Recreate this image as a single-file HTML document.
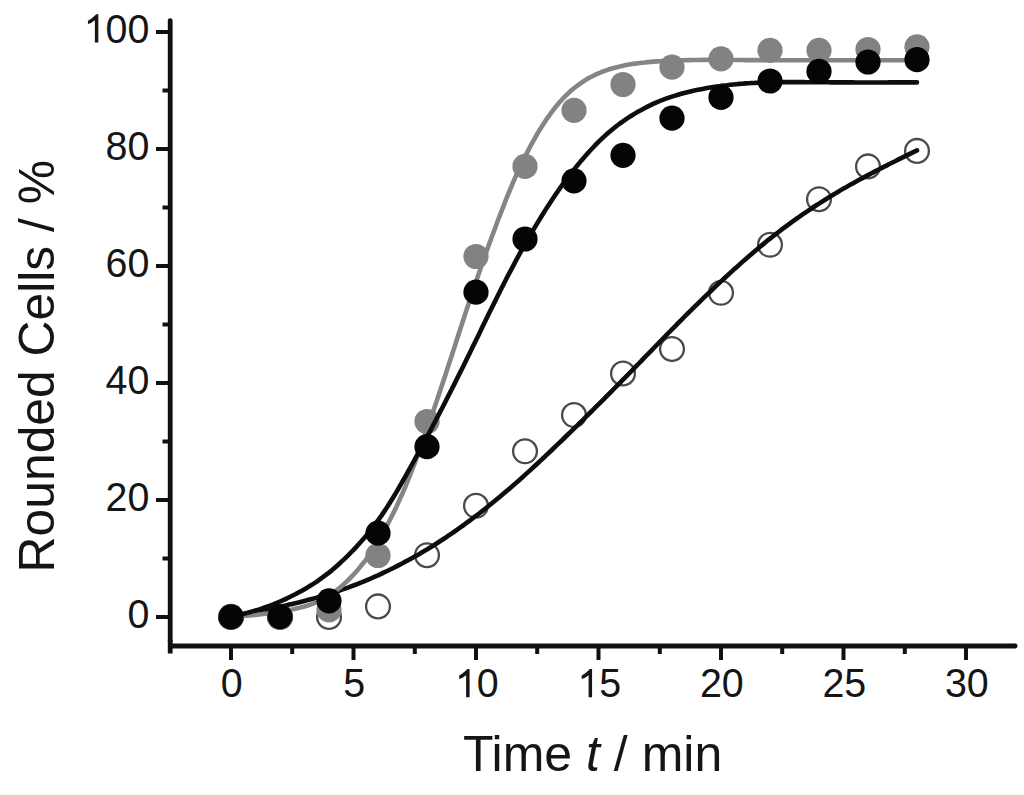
<!DOCTYPE html><html><head><meta charset="utf-8"><style>html,body{margin:0;padding:0;background:#fff;overflow:hidden}svg{display:block}svg text{font-family:"Liberation Sans",sans-serif}</style></head><body>
<svg width="1024" height="795" viewBox="0 0 1024 795" font-family="Liberation Sans">
<rect width="1024" height="795" fill="#fff"/>
<g>
<path d="M156,616.9 H170 M156,499.9 H170 M156,382.9 H170 M156,265.9 H170 M156,148.9 H170 M156,31.9 H170 M162.5,558.4 H170 M162.5,441.4 H170 M162.5,324.4 H170 M162.5,207.4 H170 M162.5,90.4 H170 M231.0,646 V660 M353.5,646 V660 M476.0,646 V660 M598.5,646 V660 M721.0,646 V660 M843.5,646 V660 M966.0,646 V660 M292.2,646 V654 M414.8,646 V654 M537.2,646 V654 M659.8,646 V654 M782.2,646 V654 M904.8,646 V654" stroke="#111" stroke-width="4.0" fill="none"/>
<path d="M170.2,640 V653.5 M170.2,646 H1015" stroke="#111" stroke-width="4.8" fill="none"/><path d="M170.2,20.6 V641 M1015,646 H1015.1" stroke="#111" stroke-width="4.8" fill="none" stroke-linecap="round"/>
<g font-size="39.4" fill="#151515"><text transform="translate(127.49,627.50) scale(1,1.046)">0</text><text transform="translate(105.58,510.50) scale(1,1.046)">2</text><text transform="translate(127.49,510.50) scale(1,1.046)">0</text><text transform="translate(105.58,393.50) scale(1,1.046)">4</text><text transform="translate(127.49,393.50) scale(1,1.046)">0</text><text transform="translate(105.58,276.50) scale(1,1.046)">6</text><text transform="translate(127.49,276.50) scale(1,1.046)">0</text><text transform="translate(105.58,159.50) scale(1,1.046)">8</text><text transform="translate(127.49,159.50) scale(1,1.046)">0</text><path transform="translate(83.66,42.50) scale(0.01924,-0.02012)" d="M763 0L583 0L583 1102Q430 970 223 914L223 1081Q360 1144 470 1240Q590 1336 647 1409L763 1409Z"/><text transform="translate(105.58,42.50) scale(1,1.046)">0</text><text transform="translate(127.49,42.50) scale(1,1.046)">0</text><text transform="translate(220.84,697.30) scale(1,1.046)">0</text><text transform="translate(343.34,697.30) scale(1,1.046)">5</text><path transform="translate(454.89,697.30) scale(0.01924,-0.02012)" d="M763 0L583 0L583 1102Q430 970 223 914L223 1081Q360 1144 470 1240Q590 1336 647 1409L763 1409Z"/><text transform="translate(476.80,697.30) scale(1,1.046)">0</text><path transform="translate(577.39,697.30) scale(0.01924,-0.02012)" d="M763 0L583 0L583 1102Q430 970 223 914L223 1081Q360 1144 470 1240Q590 1336 647 1409L763 1409Z"/><text transform="translate(599.30,697.30) scale(1,1.046)">5</text><text transform="translate(699.89,697.30) scale(1,1.046)">2</text><text transform="translate(721.80,697.30) scale(1,1.046)">0</text><text transform="translate(822.39,697.30) scale(1,1.046)">2</text><text transform="translate(844.30,697.30) scale(1,1.046)">5</text><text transform="translate(944.89,697.30) scale(1,1.046)">3</text><text transform="translate(966.80,697.30) scale(1,1.046)">0</text></g>
<text x="462.9" y="771" font-size="50" fill="#151515">Time <tspan font-style="italic">t</tspan> / min</text>
<text transform="translate(54,572.4) rotate(-90)" font-size="49.8" fill="#151515">Rounded Cells / %</text>
<g fill="none" stroke="#4a4a4a" stroke-width="2.3"><circle cx="231.0" cy="616.9" r="11.9"/><circle cx="280.0" cy="616.9" r="11.9"/><circle cx="329.0" cy="616.9" r="11.9"/><circle cx="378.0" cy="606.4" r="11.9"/><circle cx="427.0" cy="555.2" r="11.9"/><circle cx="476.0" cy="505.8" r="11.9"/><circle cx="525.0" cy="451.3" r="11.9"/><circle cx="574.0" cy="415.1" r="11.9"/><circle cx="623.0" cy="373.5" r="11.9"/><circle cx="672.0" cy="349.0" r="11.9"/><circle cx="721.0" cy="292.8" r="11.9"/><circle cx="770.0" cy="244.8" r="11.9"/><circle cx="819.0" cy="199.2" r="11.9"/><circle cx="868.0" cy="166.4" r="11.9"/><circle cx="917.0" cy="150.9" r="11.9"/></g>
<path d="M231.0,616.9 L234.1,616.3 L237.1,615.7 L240.2,615.0 L243.2,614.4 L246.3,613.8 L249.4,613.2 L252.4,612.5 L255.5,611.9 L258.6,611.3 L261.6,610.6 L264.7,610.0 L267.8,609.4 L270.8,608.7 L273.9,608.1 L276.9,607.4 L280.0,606.7 L283.1,606.0 L286.1,605.4 L289.2,604.6 L292.2,603.9 L295.3,603.2 L298.4,602.5 L301.4,601.7 L304.5,600.9 L307.6,600.1 L310.6,599.3 L313.7,598.5 L316.8,597.6 L319.8,596.7 L322.9,595.8 L325.9,594.9 L329.0,594.0 L332.1,593.0 L335.1,592.0 L338.2,591.0 L341.2,589.9 L344.3,588.9 L347.4,587.8 L350.4,586.6 L353.5,585.5 L356.6,584.3 L359.6,583.1 L362.7,581.9 L365.8,580.6 L368.8,579.3 L371.9,578.0 L374.9,576.6 L378.0,575.3 L381.1,573.9 L384.1,572.4 L387.2,571.0 L390.2,569.5 L393.3,568.0 L396.4,566.4 L399.4,564.9 L402.5,563.3 L405.6,561.6 L408.6,560.0 L411.7,558.3 L414.8,556.6 L417.8,554.9 L420.9,553.1 L423.9,551.3 L427.0,549.4 L430.1,547.6 L433.1,545.7 L436.2,543.7 L439.2,541.8 L442.3,539.8 L445.4,537.8 L448.4,535.7 L451.5,533.6 L454.6,531.5 L457.6,529.4 L460.7,527.2 L463.8,525.0 L466.8,522.7 L469.9,520.5 L472.9,518.2 L476.0,515.8 L479.1,513.5 L482.1,511.1 L485.2,508.7 L488.2,506.3 L491.3,503.8 L494.4,501.3 L497.4,498.8 L500.5,496.2 L503.6,493.6 L506.6,491.0 L509.7,488.4 L512.8,485.8 L515.8,483.1 L518.9,480.4 L521.9,477.7 L525.0,474.9 L528.1,472.1 L531.1,469.4 L534.2,466.5 L537.2,463.7 L540.3,460.9 L543.4,458.0 L546.4,455.1 L549.5,452.2 L552.6,449.3 L555.6,446.4 L558.7,443.4 L561.8,440.5 L564.8,437.5 L567.9,434.5 L570.9,431.6 L574.0,428.6 L577.1,425.6 L580.1,422.6 L583.2,419.6 L586.2,416.5 L589.3,413.5 L592.4,410.5 L595.4,407.4 L598.5,404.4 L601.6,401.3 L604.6,398.3 L607.7,395.2 L610.8,392.1 L613.8,389.0 L616.9,385.9 L619.9,382.8 L623.0,379.7 L626.1,376.6 L629.1,373.5 L632.2,370.3 L635.2,367.2 L638.3,364.0 L641.4,360.8 L644.4,357.7 L647.5,354.5 L650.6,351.4 L653.6,348.2 L656.7,345.0 L659.8,341.9 L662.8,338.8 L665.9,335.6 L668.9,332.5 L672.0,329.4 L675.1,326.3 L678.1,323.2 L681.2,320.1 L684.2,317.0 L687.3,313.9 L690.4,310.9 L693.4,307.9 L696.5,304.8 L699.6,301.8 L702.6,298.9 L705.7,295.9 L708.8,293.0 L711.8,290.0 L714.9,287.1 L717.9,284.2 L721.0,281.4 L724.1,278.5 L727.1,275.7 L730.2,272.9 L733.2,270.1 L736.3,267.4 L739.4,264.6 L742.4,261.9 L745.5,259.2 L748.6,256.5 L751.6,253.9 L754.7,251.3 L757.8,248.7 L760.8,246.1 L763.9,243.6 L766.9,241.1 L770.0,238.6 L773.1,236.2 L776.1,233.8 L779.2,231.5 L782.2,229.1 L785.3,226.8 L788.4,224.6 L791.4,222.3 L794.5,220.1 L797.6,218.0 L800.6,215.8 L803.7,213.7 L806.8,211.6 L809.8,209.6 L812.9,207.5 L815.9,205.5 L819.0,203.6 L822.1,201.6 L825.1,199.7 L828.2,197.8 L831.2,195.9 L834.3,194.1 L837.4,192.2 L840.4,190.4 L843.5,188.6 L846.6,186.9 L849.6,185.1 L852.7,183.4 L855.8,181.7 L858.8,180.0 L861.9,178.4 L864.9,176.7 L868.0,175.1 L871.1,173.5 L874.1,171.9 L877.2,170.3 L880.2,168.7 L883.3,167.1 L886.4,165.6 L889.4,164.0 L892.5,162.5 L895.6,161.0 L898.6,159.4 L901.7,157.9 L904.8,156.4 L907.8,154.9 L910.9,153.4 L913.9,151.9 L917.0,150.4" stroke="#0d0d0d" stroke-width="4.6" fill="none" stroke-linejoin="round" stroke-linecap="round"/>
<path d="M231.0,616.9 L234.1,616.7 L237.1,616.5 L240.2,616.3 L243.2,616.0 L246.3,615.7 L249.4,615.5 L252.4,615.2 L255.5,614.9 L258.6,614.5 L261.6,614.2 L264.7,613.8 L267.8,613.5 L270.8,613.1 L273.9,612.7 L276.9,612.2 L280.0,611.7 L283.1,611.2 L286.1,610.7 L289.2,610.1 L292.2,609.5 L295.3,608.8 L298.4,608.1 L301.4,607.3 L304.5,606.5 L307.6,605.6 L310.6,604.5 L313.7,603.4 L316.8,602.1 L319.8,600.7 L322.9,599.1 L325.9,597.4 L329.0,595.5 L332.1,593.5 L335.1,591.3 L338.2,588.9 L341.2,586.4 L344.3,583.7 L347.4,580.9 L350.4,577.8 L353.5,574.6 L356.6,571.2 L359.6,567.6 L362.7,563.8 L365.8,559.8 L368.8,555.6 L371.9,551.2 L374.9,546.4 L378.0,541.5 L381.1,536.3 L384.1,530.9 L387.2,525.2 L390.2,519.3 L393.3,513.1 L396.4,506.7 L399.4,500.1 L402.5,493.2 L405.6,486.1 L408.6,478.6 L411.7,471.0 L414.8,463.0 L417.8,454.9 L420.9,446.5 L423.9,438.0 L427.0,429.3 L430.1,420.5 L433.1,411.6 L436.2,402.6 L439.2,393.5 L442.3,384.3 L445.4,375.0 L448.4,365.6 L451.5,356.2 L454.6,346.7 L457.6,337.2 L460.7,327.8 L463.8,318.4 L466.8,309.1 L469.9,299.9 L472.9,290.7 L476.0,281.7 L479.1,272.8 L482.1,264.0 L485.2,255.3 L488.2,246.8 L491.3,238.3 L494.4,230.0 L497.4,221.8 L500.5,213.7 L503.6,205.8 L506.6,198.0 L509.7,190.5 L512.8,183.2 L515.8,176.2 L518.9,169.4 L521.9,162.9 L525.0,156.6 L528.1,150.6 L531.1,144.8 L534.2,139.3 L537.2,134.0 L540.3,128.9 L543.4,124.1 L546.4,119.4 L549.5,115.1 L552.6,110.9 L555.6,107.0 L558.7,103.3 L561.8,99.8 L564.8,96.6 L567.9,93.6 L570.9,90.8 L574.0,88.2 L577.1,85.8 L580.1,83.6 L583.2,81.5 L586.2,79.6 L589.3,77.8 L592.4,76.2 L595.4,74.7 L598.5,73.3 L601.6,72.0 L604.6,70.9 L607.7,69.8 L610.8,68.8 L613.8,68.0 L616.9,67.2 L619.9,66.4 L623.0,65.8 L626.1,65.1 L629.1,64.6 L632.2,64.1 L635.2,63.6 L638.3,63.2 L641.4,62.8 L644.4,62.5 L647.5,62.1 L650.6,61.9 L653.6,61.6 L656.7,61.4 L659.8,61.2 L662.8,61.0 L665.9,60.8 L668.9,60.7 L672.0,60.5 L675.1,60.4 L678.1,60.3 L681.2,60.2 L684.2,60.2 L687.3,60.1 L690.4,60.1 L693.4,60.0 L696.5,60.0 L699.6,60.0 L702.6,59.9 L705.7,59.9 L708.8,59.9 L711.8,59.9 L714.9,59.9 L717.9,59.9 L721.0,59.9 L724.1,59.9 L727.1,59.9 L730.2,60.0 L733.2,60.0 L736.3,60.0 L739.4,60.0 L742.4,60.0 L745.5,60.1 L748.6,60.1 L751.6,60.1 L754.7,60.1 L757.8,60.1 L760.8,60.2 L763.9,60.2 L766.9,60.2 L770.0,60.2 L773.1,60.2 L776.1,60.3 L779.2,60.3 L782.2,60.3 L785.3,60.3 L788.4,60.3 L791.4,60.3 L794.5,60.3 L797.6,60.3 L800.6,60.3 L803.7,60.3 L806.8,60.3 L809.8,60.3 L812.9,60.3 L815.9,60.3 L819.0,60.3 L822.1,60.3 L825.1,60.3 L828.2,60.3 L831.2,60.3 L834.3,60.3 L837.4,60.3 L840.4,60.3 L843.5,60.3 L846.6,60.3 L849.6,60.3 L852.7,60.3 L855.8,60.3 L858.8,60.3 L861.9,60.3 L864.9,60.3 L868.0,60.3 L871.1,60.3 L874.1,60.3 L877.2,60.3 L880.2,60.3 L883.3,60.3 L886.4,60.3 L889.4,60.3 L892.5,60.3 L895.6,60.3 L898.6,60.3 L901.7,60.3 L904.8,60.3 L907.8,60.3 L910.9,60.3 L913.9,60.3 L917.0,60.3" stroke="#858585" stroke-width="4.6" fill="none" stroke-linejoin="round" stroke-linecap="round"/>
<g fill="#828282"><circle cx="231.0" cy="616.9" r="12.6"/><circle cx="280.0" cy="616.9" r="12.6"/><circle cx="329.0" cy="609.9" r="12.6"/><circle cx="378.0" cy="555.5" r="12.6"/><circle cx="427.0" cy="421.5" r="12.6"/><circle cx="476.0" cy="256.5" r="12.6"/><circle cx="525.0" cy="166.4" r="12.6"/><circle cx="574.0" cy="110.3" r="12.6"/><circle cx="623.0" cy="84.5" r="12.6"/><circle cx="672.0" cy="67.2" r="12.6"/><circle cx="721.0" cy="58.8" r="12.6"/><circle cx="770.0" cy="50.3" r="12.6"/><circle cx="819.0" cy="50.3" r="12.6"/><circle cx="868.0" cy="49.5" r="12.6"/><circle cx="917.0" cy="46.8" r="12.6"/></g>
<path d="M231.0,616.9 L234.1,616.2 L237.1,615.4 L240.2,614.6 L243.2,613.9 L246.3,613.1 L249.4,612.2 L252.4,611.4 L255.5,610.5 L258.6,609.6 L261.6,608.6 L264.7,607.5 L267.8,606.4 L270.8,605.3 L273.9,604.1 L276.9,602.8 L280.0,601.5 L283.1,600.2 L286.1,598.8 L289.2,597.3 L292.2,595.8 L295.3,594.3 L298.4,592.6 L301.4,591.0 L304.5,589.2 L307.6,587.4 L310.6,585.5 L313.7,583.6 L316.8,581.6 L319.8,579.4 L322.9,577.2 L325.9,574.9 L329.0,572.6 L332.1,570.1 L335.1,567.5 L338.2,564.7 L341.2,561.9 L344.3,559.1 L347.4,556.1 L350.4,553.0 L353.5,549.9 L356.6,546.6 L359.6,543.2 L362.7,539.8 L365.8,536.2 L368.8,532.4 L371.9,528.6 L374.9,524.6 L378.0,520.4 L381.1,516.1 L384.1,511.6 L387.2,507.0 L390.2,502.2 L393.3,497.2 L396.4,492.1 L399.4,486.9 L402.5,481.5 L405.6,476.1 L408.6,470.6 L411.7,465.0 L414.8,459.4 L417.8,453.8 L420.9,448.2 L423.9,442.5 L427.0,436.8 L430.1,431.1 L433.1,425.3 L436.2,419.5 L439.2,413.6 L442.3,407.7 L445.4,401.7 L448.4,395.7 L451.5,389.7 L454.6,383.6 L457.6,377.5 L460.7,371.4 L463.8,365.2 L466.8,359.0 L469.9,352.8 L472.9,346.5 L476.0,340.2 L479.1,333.9 L482.1,327.6 L485.2,321.3 L488.2,315.0 L491.3,308.8 L494.4,302.6 L497.4,296.4 L500.5,290.3 L503.6,284.3 L506.6,278.3 L509.7,272.4 L512.8,266.6 L515.8,260.9 L518.9,255.2 L521.9,249.7 L525.0,244.2 L528.1,238.8 L531.1,233.6 L534.2,228.4 L537.2,223.3 L540.3,218.2 L543.4,213.3 L546.4,208.4 L549.5,203.7 L552.6,199.0 L555.6,194.5 L558.7,190.0 L561.8,185.7 L564.8,181.6 L567.9,177.5 L570.9,173.5 L574.0,169.6 L577.1,165.8 L580.1,162.1 L583.2,158.5 L586.2,155.0 L589.3,151.5 L592.4,148.2 L595.4,145.0 L598.5,141.9 L601.6,138.9 L604.6,136.1 L607.7,133.3 L610.8,130.7 L613.8,128.2 L616.9,125.8 L619.9,123.5 L623.0,121.3 L626.1,119.2 L629.1,117.2 L632.2,115.2 L635.2,113.4 L638.3,111.6 L641.4,109.9 L644.4,108.2 L647.5,106.6 L650.6,105.1 L653.6,103.7 L656.7,102.3 L659.8,101.0 L662.8,99.8 L665.9,98.7 L668.9,97.6 L672.0,96.6 L675.1,95.6 L678.1,94.7 L681.2,93.8 L684.2,93.0 L687.3,92.2 L690.4,91.4 L693.4,90.7 L696.5,90.1 L699.6,89.5 L702.6,88.9 L705.7,88.3 L708.8,87.8 L711.8,87.3 L714.9,86.8 L717.9,86.4 L721.0,85.9 L724.1,85.5 L727.1,85.2 L730.2,84.8 L733.2,84.5 L736.3,84.2 L739.4,83.9 L742.4,83.7 L745.5,83.4 L748.6,83.2 L751.6,83.0 L754.7,82.9 L757.8,82.7 L760.8,82.6 L763.9,82.5 L766.9,82.4 L770.0,82.3 L773.1,82.2 L776.1,82.2 L779.2,82.1 L782.2,82.1 L785.3,82.1 L788.4,82.1 L791.4,82.1 L794.5,82.1 L797.6,82.1 L800.6,82.1 L803.7,82.1 L806.8,82.2 L809.8,82.2 L812.9,82.2 L815.9,82.2 L819.0,82.3 L822.1,82.3 L825.1,82.3 L828.2,82.3 L831.2,82.4 L834.3,82.4 L837.4,82.4 L840.4,82.4 L843.5,82.4 L846.6,82.4 L849.6,82.4 L852.7,82.4 L855.8,82.5 L858.8,82.5 L861.9,82.5 L864.9,82.5 L868.0,82.5 L871.1,82.5 L874.1,82.5 L877.2,82.5 L880.2,82.5 L883.3,82.5 L886.4,82.5 L889.4,82.4 L892.5,82.4 L895.6,82.4 L898.6,82.4 L901.7,82.4 L904.8,82.4 L907.8,82.4 L910.9,82.4 L913.9,82.4 L917.0,82.4" stroke="#0d0d0d" stroke-width="4.6" fill="none" stroke-linejoin="round" stroke-linecap="round"/>
<g fill="#050505"><circle cx="231.0" cy="616.9" r="12.6"/><circle cx="280.0" cy="616.6" r="12.6"/><circle cx="329.0" cy="600.8" r="12.6"/><circle cx="378.0" cy="533.2" r="12.6"/><circle cx="427.0" cy="446.7" r="12.6"/><circle cx="476.0" cy="292.2" r="12.6"/><circle cx="525.0" cy="239.0" r="12.6"/><circle cx="574.0" cy="180.8" r="12.6"/><circle cx="623.0" cy="155.3" r="12.6"/><circle cx="672.0" cy="118.2" r="12.6"/><circle cx="721.0" cy="97.4" r="12.6"/><circle cx="770.0" cy="81.0" r="12.6"/><circle cx="819.0" cy="71.4" r="12.6"/><circle cx="868.0" cy="62.0" r="12.6"/><circle cx="917.0" cy="59.7" r="12.6"/></g>
</g></svg></body></html>
